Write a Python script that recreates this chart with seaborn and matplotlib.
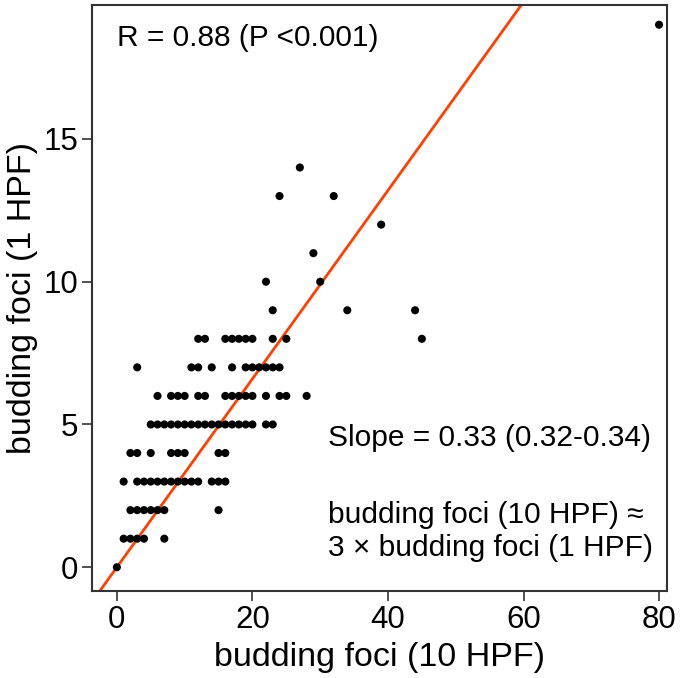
import pandas as pd
import matplotlib
matplotlib.use("Agg")
import matplotlib.pyplot as plt
import seaborn as sns

# budding foci counts, one row per 1 HPF value
foci_1hpf = ([0] + [1] * 5 + [2] * 7 + [3] * 14 + [4] * 8 + [5] * 18 + [6] * 15
             + [7] * 11 + [8] * 10 + [9] * 3 + [10] * 2 + [11] + [12] + [13] * 2 + [14] + [19])
foci_10hpf = ([0]
              + [1, 2, 3, 4, 7]
              + [2, 3, 4, 5, 6, 7, 15]
              + [1, 3, 4, 5, 6, 7, 8, 9, 10, 11, 12, 14, 15, 16]
              + [2, 3, 5, 8, 9, 10, 15, 16]
              + [5, 6, 7, 8, 9, 10, 11, 12, 13, 14, 15, 16, 17, 18, 19, 20, 22, 23]
              + [6, 8, 9, 10, 12, 13, 16, 17, 18, 19, 20, 22, 24, 25, 28]
              + [3, 11, 12, 14, 17, 19, 20, 21, 22, 23, 24]
              + [12, 13, 16, 17, 18, 19, 20, 23, 25, 45]
              + [23, 34, 44]
              + [22, 30]
              + [29]
              + [39]
              + [24, 32]
              + [27]
              + [80])

slope = 0.33
x_ticks = [0, 20, 40, 60, 80]
y_ticks = [0, 5, 10, 15]

df = pd.DataFrame({"hpf10": foci_10hpf, "hpf1": foci_1hpf})

sns.set_style("ticks")
plt.rcParams['font.family'] = ['Liberation Sans', 'DejaVu Sans']
plt.rcParams['text.color'] = 'black'
plt.rcParams['axes.labelcolor'] = 'black'

fig = plt.figure(figsize=(6.85, 6.78), dpi=100)
ax = fig.add_axes([0.134, 0.128, 0.840, 0.865])

sns.scatterplot(data=df, x="hpf10", y="hpf1", ax=ax, color="black",
                s=34, edgecolor="none", zorder=3)
# regression through the origin
ax.axline((0, 0), slope=slope, color="#ff4000", lw=2.0, zorder=2)

ax.set_xlim(-3.7, 81.2)
ax.set_ylim(-0.84, 19.7)
ax.set_xticks(x_ticks)
ax.set_yticks(y_ticks)
ax.tick_params(axis="both", labelsize=22.5, length=7, width=1.2, color="#333333",
               labelcolor="black", direction="out", pad=3)
for sp in ax.spines.values():
    sp.set_linewidth(1.5)
    sp.set_color("#333333")

ax.set_xlabel("budding foci (10 HPF)", fontsize=24.5, labelpad=5)
ax.set_ylabel("budding foci (1 HPF)", fontsize=24.5, labelpad=4)

ann = dict(transform=ax.transAxes, fontsize=21.5, va="center", ha="left")
ax.text(0.043, 0.944, "R = 0.88 (P <0.001)", **ann)
ax.text(0.41, 0.261, "Slope = 0.33 (0.32-0.34)", **ann)
ax.text(0.41, 0.13, "budding foci (10 HPF) \u2248", **ann)
ax.text(0.41, 0.073, "3 \u00d7 budding foci (1 HPF)", **ann)

fig.savefig("out.png", dpi=100)
